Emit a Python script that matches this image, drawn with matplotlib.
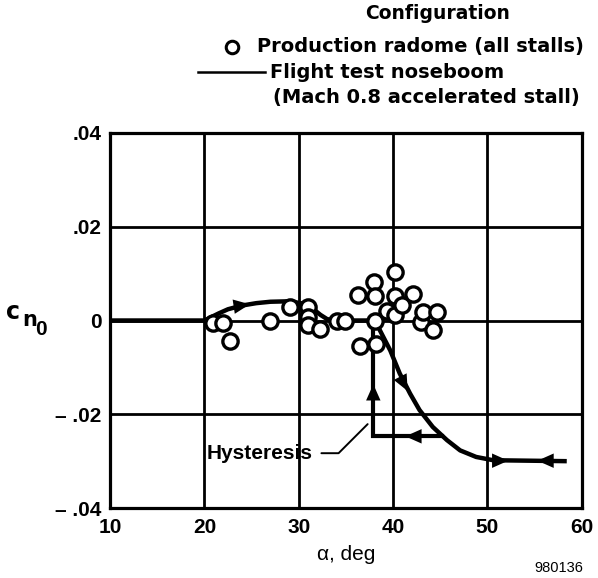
import numpy as np
import matplotlib
matplotlib.use("Agg")
from matplotlib import pyplot as plt

plt.rcParams["font.family"] = ["Liberation Sans", "DejaVu Sans"]
plt.rcParams["font.weight"] = "bold"

# production radome, all stalls (open circles)
radome_alpha = [20.9, 22.0, 22.7, 27.0, 29.1, 31.0, 31.0, 31.0, 32.2, 34.0, 34.9,
                36.3, 36.5, 38.0, 38.1, 38.1, 38.2, 39.3, 40.2, 40.2, 40.2, 40.9,
                42.1, 43.0, 43.2, 44.2, 44.6]
radome_cn = [-0.0006, -0.0006, -0.0044, -0.0002, 0.0028, 0.0028, 0.0007, -0.001,
             -0.0018, 0.0, 0.0, 0.0055, -0.0054, 0.0082, 0.0053, 0.0, -0.005,
             0.0021, 0.0103, 0.0053, 0.0011, 0.0032, 0.0057, -0.0004, 0.0018,
             -0.0021, 0.0018]

# flight test noseboom, Mach 0.8 accelerated stall
boom_alpha = [10, 20, 20.5, 21.5, 22.5, 24.0, 25.5, 27.0, 29.0, 30.5, 31.5, 32.3,
              33.0, 33.8, 38.2, 38.6, 39.7, 40.7, 41.8, 42.8, 44.2, 45.7, 47.1,
              48.8, 50.6, 58.4]
boom_cn = [0, 0, 0.0005, 0.0015, 0.0024, 0.0032, 0.0037, 0.004, 0.0041, 0.0036,
           0.0025, 0.0012, 0.0003, 0, 0, -0.0021, -0.0064, -0.0113, -0.0156,
           -0.0191, -0.0227, -0.0255, -0.0277, -0.0291, -0.0298, -0.0300]

# hysteresis return path
hyst_alpha = [45.2, 37.9, 37.9]
hyst_cn = [-0.0247, -0.0247, 0.0]

# direction arrows: centre and heading
arrow_alpha = [24.6, 41.4, 41.5, 37.9, 52.0, 55.5]
arrow_cn = [0.0034, -0.0145, -0.0247, -0.0140, -0.0299, -0.0299]
arrow_dalpha = [1.0, 0.55, -1.0, 0.0, 1.0, -1.0]
arrow_dcn = [0.0003, -0.00215, 0.0, 0.002, 0.0, 0.0]

xticks = [10, 20, 30, 40, 50, 60]
yticks = [-0.04, -0.02, 0, 0.02, 0.04]
ytick_labels = ["\u2013 .04", "\u2013 .02", "0", ".02", ".04"]

fig = plt.figure(figsize=(5.98, 5.78), dpi=100)
ax = fig.add_axes([0.184, 0.121, 0.789, 0.649])

ax.plot(boom_alpha, boom_cn, color="black", lw=3.2, solid_capstyle="butt", zorder=3)
ax.plot(hyst_alpha, hyst_cn, color="black", lw=3.0, solid_joinstyle="miter", zorder=3)
ax.plot(radome_alpha, radome_cn, "o", ms=11, mfc="white", mec="black", mew=2.4, zorder=4)

for x, y, dx, dy in zip(arrow_alpha, arrow_cn, arrow_dalpha, arrow_dcn):
    ax.annotate("", xy=(x + dx * 0.5, y + dy * 0.5), xytext=(x - dx * 0.5, y - dy * 0.5),
                arrowprops=dict(arrowstyle="-|>,head_length=0.9,head_width=0.4",
                                color="black", lw=0, mutation_scale=13),
                zorder=5)

ax.set_xlim(10, 60)
ax.set_ylim(-0.04, 0.04)
ax.set_xticks(xticks)
ax.set_xticklabels([str(t) for t in xticks])
ax.set_yticks(yticks)
ax.set_yticklabels(ytick_labels)
ax.tick_params(length=0, labelsize=15, pad=6)
ax.tick_params(axis="x", pad=7)
ax.grid(True, color="black", lw=2.0)
ax.set_axisbelow(True)
for sp in ax.spines.values():
    sp.set_linewidth(2.3)

ax.set_xlabel("\u03b1, deg", fontsize=15, labelpad=6)

# y label c sub n sub 0, built from three pieces like the original lettering
label_font = ["DejaVu Sans"]
fig.text(6 / 598, 1 - 319 / 578, "c", fontsize=17, ha="left", va="baseline",
         family=label_font)
fig.text(22 / 598, 1 - 326 / 578, "n", fontsize=15, ha="left", va="baseline",
         family=label_font)
fig.text(35 / 598, 1 - 335 / 578, "0", fontsize=15, ha="left", va="baseline")

# hysteresis callout
ax.annotate("Hysteresis", xy=(37.3, -0.0221), xytext=(25.9, -0.0283),
            fontsize=15, va="center", ha="center",
            arrowprops=dict(arrowstyle="-", color="black", lw=1.4,
                            connectionstyle="angle,angleA=0,angleB=45,rad=0",
                            shrinkA=4, shrinkB=0))

# legend block
legend_font = ["DejaVu Sans"]
fig.text(0.731, 0.976, "Configuration", fontsize=13.5, ha="center", va="center",
         family=legend_font)
fig.text(0.43, 0.919, "Production radome (all stalls)", fontsize=14, ha="left",
         va="center", family=legend_font)
fig.lines.append(plt.Line2D([0.388], [0.919], marker="o", ms=9, mfc="white", mec="black",
                            mew=2.2, transform=fig.transFigure))
fig.lines.append(plt.Line2D([0.331, 0.443], [0.875, 0.875], color="black", lw=1.8,
                            transform=fig.transFigure))
fig.text(0.452, 0.875, "Flight test noseboom", fontsize=14, ha="left", va="center",
         family=legend_font)
fig.text(0.457, 0.832, "(Mach 0.8 accelerated stall)", fontsize=14, ha="left",
         va="center", family=legend_font)
fig.text(0.975, 0.017, "980136", fontsize=10.5, ha="right", va="center",
         fontweight="normal")

fig.savefig("out.png", dpi=100)
